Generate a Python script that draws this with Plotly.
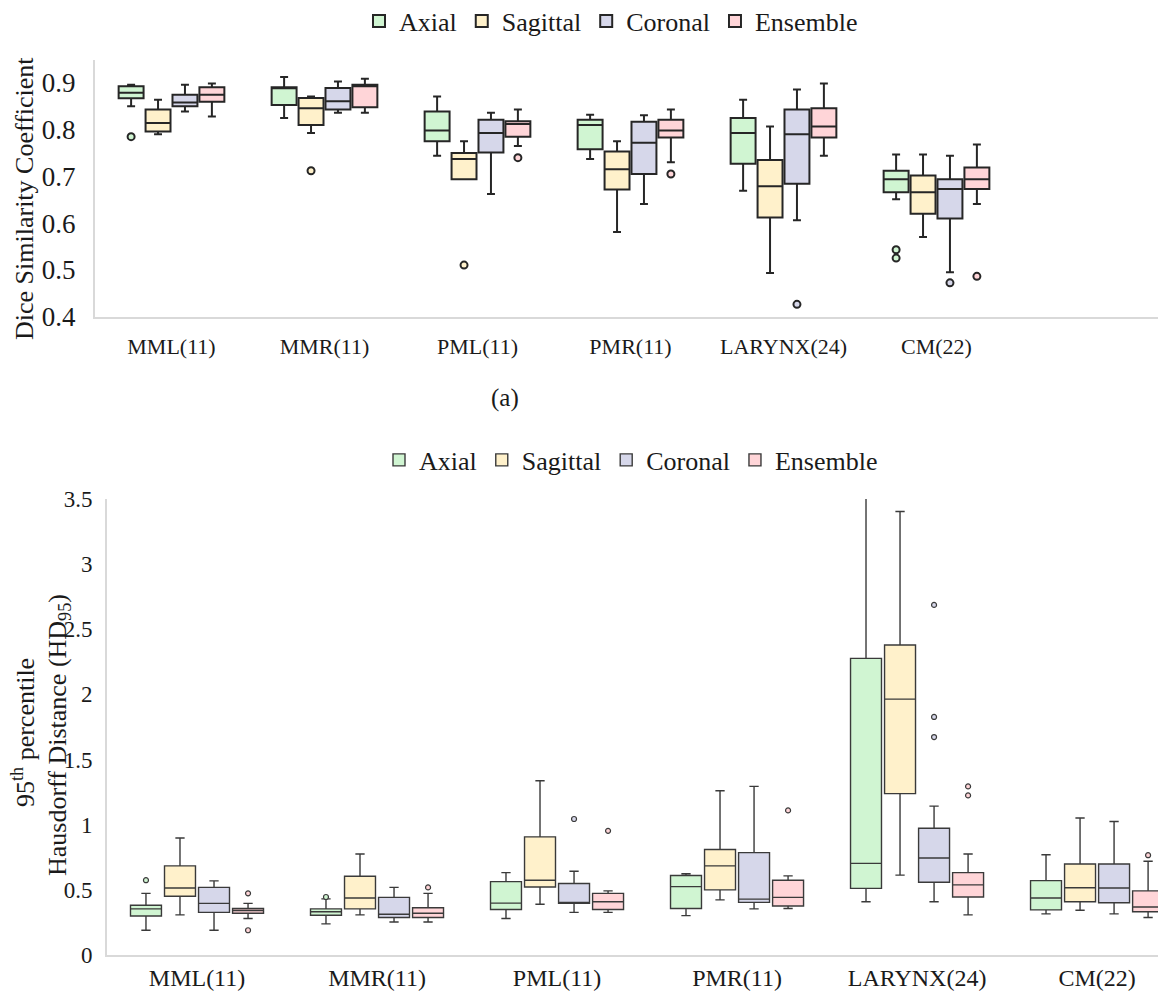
import plotly.graph_objects as go

# The page body has an 8px default margin, so the figure is 8px smaller than the window
OFF = 8
W, H = 1166 - OFF, 992 - OFF

categories = ["MML(11)", "MMR(11)", "PML(11)", "PMR(11)", "LARYNX(24)", "CM(22)"]
series = ["Axial", "Sagittal", "Coronal", "Ensemble"]

# ---------------- Panel (a): Dice Similarity Coefficient ----------------
dsc_axial_lo  = [0.850, 0.825, 0.744, 0.737, 0.669, 0.651]
dsc_axial_q1  = [0.867, 0.853, 0.775, 0.758, 0.727, 0.666]
dsc_axial_med = [0.879, 0.889, 0.798, 0.810, 0.793, 0.694]
dsc_axial_q3  = [0.893, 0.891, 0.839, 0.821, 0.825, 0.712]
dsc_axial_hi  = [0.896, 0.913, 0.871, 0.832, 0.864, 0.747]

dsc_sag_lo  = [0.790, 0.793, 0.694, 0.581, 0.493, 0.570]
dsc_sag_q1  = [0.796, 0.810, 0.694, 0.672, 0.612, 0.620]
dsc_sag_med = [0.814, 0.846, 0.737, 0.715, 0.679, 0.666]
dsc_sag_q3  = [0.843, 0.868, 0.750, 0.753, 0.735, 0.702]
dsc_sag_hi  = [0.864, 0.871, 0.775, 0.775, 0.807, 0.747]

dsc_cor_lo  = [0.839, 0.836, 0.662, 0.641, 0.606, 0.495]
dsc_cor_q1  = [0.850, 0.843, 0.751, 0.705, 0.684, 0.610]
dsc_cor_med = [0.858, 0.861, 0.793, 0.772, 0.790, 0.673]
dsc_cor_q3  = [0.875, 0.889, 0.821, 0.817, 0.843, 0.694]
dsc_cor_hi  = [0.896, 0.903, 0.836, 0.831, 0.886, 0.744]

dsc_ens_lo  = [0.828, 0.836, 0.765, 0.730, 0.744, 0.641]
dsc_ens_q1  = [0.860, 0.848, 0.785, 0.783, 0.783, 0.673]
dsc_ens_med = [0.875, 0.893, 0.812, 0.798, 0.807, 0.694]
dsc_ens_q3  = [0.891, 0.896, 0.818, 0.821, 0.846, 0.719]
dsc_ens_hi  = [0.899, 0.909, 0.843, 0.843, 0.899, 0.768]

# outliers: (category index, value)
dsc_axial_out = [(0, 0.785), (5, 0.543), (5, 0.525)]
dsc_sag_out   = [(1, 0.712), (2, 0.510)]
dsc_cor_out   = [(4, 0.426), (5, 0.472)]
dsc_ens_out   = [(2, 0.740), (3, 0.705), (5, 0.486)]

# ---------------- Panel (b): HD95 ----------------
hd_axial_lo  = [0.190, 0.239, 0.280, 0.302, 0.409, 0.316]
hd_axial_q1  = [0.299, 0.305, 0.349, 0.357, 0.511, 0.346]
hd_axial_med = [0.354, 0.332, 0.398, 0.525, 0.703, 0.437]
hd_axial_q3  = [0.382, 0.354, 0.563, 0.610, 2.277, 0.571]
hd_axial_hi  = [0.473, 0.431, 0.632, 0.624, 3.508, 0.769]

hd_sag_lo  = [0.308, 0.308, 0.390, 0.423, 0.613, 0.343]
hd_sag_q1  = [0.451, 0.354, 0.522, 0.500, 1.239, 0.409]
hd_sag_med = [0.514, 0.437, 0.574, 0.684, 1.964, 0.516]
hd_sag_q3  = [0.684, 0.604, 0.907, 0.810, 2.379, 0.698]
hd_sag_hi  = [0.898, 0.775, 1.338, 1.261, 3.404, 1.052]

hd_cor_lo  = [0.190, 0.253, 0.327, 0.354, 0.409, 0.316]
hd_cor_q1  = [0.327, 0.288, 0.396, 0.404, 0.558, 0.401]
hd_cor_med = [0.396, 0.313, 0.404, 0.429, 0.745, 0.514]
hd_cor_q3  = [0.519, 0.442, 0.549, 0.786, 0.973, 0.698]
hd_cor_hi  = [0.569, 0.519, 0.643, 1.294, 1.143, 1.025]

hd_ens_lo  = [0.280, 0.253, 0.327, 0.357, 0.308, 0.288]
hd_ens_q1  = [0.321, 0.288, 0.349, 0.376, 0.445, 0.332]
hd_ens_med = [0.341, 0.321, 0.409, 0.442, 0.538, 0.368]
hd_ens_q3  = [0.357, 0.363, 0.473, 0.574, 0.632, 0.492]
hd_ens_hi  = [0.396, 0.473, 0.492, 0.607, 0.775, 0.720]

hd_axial_out = [(0, 0.574), (1, 0.445)]
hd_sag_out   = []
hd_cor_out   = [(2, 1.044), (4, 2.687), (4, 1.827), (4, 1.673)]
hd_ens_out   = [(0, 0.473), (0, 0.190), (1, 0.519), (2, 0.953), (3, 1.110),
                (4, 1.294), (4, 1.225), (5, 0.766)]

y_ticks_a = [0.4, 0.5, 0.6, 0.7, 0.8, 0.9]
y_ticktext_a = ["0.4", "0.5", "0.6", "0.7", "0.8", "0.9"]
y_ticks_b = [0, 0.5, 1, 1.5, 2, 2.5, 3, 3.5]
y_ticktext_b = ["0", "0.5", "1", "1.5", "2", "2.5", "3", "3.5"]

# ---------------- styling ----------------
FAM = "Liberation Serif, Times New Roman, serif"
TXT = "#1a1a1a"
fills = {"Axial": "#d0f5d2", "Sagittal": "#fff1cb", "Coronal": "#d6d7ea", "Ensemble": "#ffd5d8"}


def F(size):
    return dict(family=FAM, size=size, color=TXT)


def fx(p):  # window pixel -> paper x
    return (p - OFF) / W


def fy(p):  # window pixel -> paper y
    return 1 - (p - OFF) / H


panel_a = {
    "Axial": (dsc_axial_lo, dsc_axial_q1, dsc_axial_med, dsc_axial_q3, dsc_axial_hi, dsc_axial_out),
    "Sagittal": (dsc_sag_lo, dsc_sag_q1, dsc_sag_med, dsc_sag_q3, dsc_sag_hi, dsc_sag_out),
    "Coronal": (dsc_cor_lo, dsc_cor_q1, dsc_cor_med, dsc_cor_q3, dsc_cor_hi, dsc_cor_out),
    "Ensemble": (dsc_ens_lo, dsc_ens_q1, dsc_ens_med, dsc_ens_q3, dsc_ens_hi, dsc_ens_out),
}
panel_b = {
    "Axial": (hd_axial_lo, hd_axial_q1, hd_axial_med, hd_axial_q3, hd_axial_hi, hd_axial_out),
    "Sagittal": (hd_sag_lo, hd_sag_q1, hd_sag_med, hd_sag_q3, hd_sag_hi, hd_sag_out),
    "Coronal": (hd_cor_lo, hd_cor_q1, hd_cor_med, hd_cor_q3, hd_cor_hi, hd_cor_out),
    "Ensemble": (hd_ens_lo, hd_ens_q1, hd_ens_med, hd_ens_q3, hd_ens_hi, hd_ens_out),
}

fig = go.Figure()


def add_panel(data, xaxis, yaxis, legend, spacing, bw, ww, lw, lcol, msize, mlw):
    n = len(series)
    for j, s in enumerate(series):
        lo, q1, med, q3, hi, out = data[s]
        off = (j - (n - 1) / 2) * spacing
        xs = [i + off for i in range(len(categories))]
        fig.add_trace(go.Box(
            x=xs, lowerfence=lo, q1=q1, median=med, q3=q3, upperfence=hi,
            name=s, fillcolor=fills[s], line=dict(color=lcol, width=lw),
            width=bw, whiskerwidth=ww, boxpoints=False,
            xaxis=xaxis, yaxis=yaxis, legend=legend, hoverinfo="skip",
        ))
        if out:
            fig.add_trace(go.Scatter(
                x=[c + off for c, v in out], y=[v for c, v in out], mode="markers",
                marker=dict(size=msize, color=fills[s], line=dict(color=lcol, width=mlw)),
                showlegend=False, xaxis=xaxis, yaxis=yaxis, hoverinfo="skip",
            ))


add_panel(panel_a, "x", "y", "legend", 0.176, 0.163, 0.32, 2.0, "#262626", 7, 2)
add_panel(panel_b, "x2", "y2", "legend2", 0.189, 0.172, 0.3, 1.4, "#3a3a3a", 5, 1.2)

AXC = "#d9d9d9"
common_axis = dict(showgrid=False, zeroline=False, showline=True, linecolor=AXC,
                   linewidth=2, ticks="", automargin=False)

fig.update_layout(
    width=W, height=H,
    margin=dict(l=0, r=0, t=0, b=0, autoexpand=False),
    paper_bgcolor="white", plot_bgcolor="white",
    font=F(22),
    xaxis=dict(domain=[fx(95), 1], range=[-0.5, 6.5], anchor="y",
               tickmode="array", tickvals=list(range(len(categories))), ticktext=categories,
               tickfont=F(22), ticklabelstandoff=9, **common_axis),
    yaxis=dict(domain=[fy(316.5), fy(59.6)], range=[0.4, 0.95], anchor="x",
               tickmode="array", tickvals=y_ticks_a, ticktext=y_ticktext_a,
               tickfont=F(27), ticklabelstandoff=12, **common_axis),
    xaxis2=dict(domain=[fx(107), 1], range=[-0.5, 5.383], anchor="y2",
                tickmode="array", tickvals=list(range(len(categories))), ticktext=categories,
                tickfont=F(24), ticklabelstandoff=0, **common_axis),
    yaxis2=dict(domain=[fy(955), fy(499)], range=[0, 3.5], anchor="x2",
                tickmode="array", tickvals=y_ticks_b, ticktext=y_ticktext_b,
                tickfont=F(23), ticklabelstandoff=8, **common_axis),
    legend=dict(orientation="h", x=fx(611), y=fy(21), xanchor="center", yanchor="middle",
                font=F(26), bgcolor="rgba(0,0,0,0)", itemclick=False, itemdoubleclick=False),
    legend2=dict(orientation="h", x=fx(631), y=fy(460), xanchor="center", yanchor="middle",
                 font=F(26), bgcolor="rgba(0,0,0,0)", itemclick=False, itemdoubleclick=False),
    showlegend=True,
)

annos = [
    dict(text="Dice Similarity Coefficient", x=fx(24), y=fy(199), textangle=-90, font=F(26)),
    dict(text="95<sup>th</sup> percentile", x=fx(23), y=fy(733), textangle=-90, font=F(26)),
    dict(text="Hausdorff Distance (HD<sub>95</sub>)", x=fx(59), y=fy(735), textangle=-90,
         font=F(26)),
    dict(text="(a)", x=fx(505), y=fy(398), font=F(25)),
]
for a in annos:
    fig.add_annotation(xref="paper", yref="paper", showarrow=False,
                       xanchor="center", yanchor="middle", **a)

fig.write_html("out.html")
